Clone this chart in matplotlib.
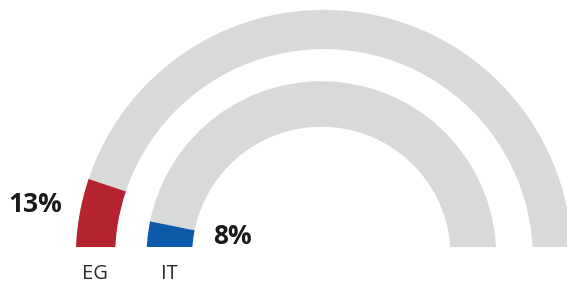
import matplotlib
matplotlib.use("Agg")
import matplotlib.pyplot as plt
from matplotlib.patches import Wedge, Rectangle

# ---- data ----
categories = ["EG", "IT"]
values = [13, 8]            # percent
value_labels = ["13%", "8%"]
scale_max = 126             # value that spans the full half ring

# ---- style ----
colors = ["#B5232F", "#0E5AAA"]
track_color = "#D8D9D9"
W, H = 567, 284

fig = plt.figure(figsize=(W / 100, H / 100), dpi=100)
ax = fig.add_axes([0, 0, 1, 1])
ax.set_xlim(0, W)
ax.set_ylim(0, H)
ax.axis("off")

# ring geometry (pixel space, y measured from bottom)
centers = [(323.9, H - 258.0), (321.4, H - 256.0)]
radii = [248.2, 174.8]
widths = [39.3, 45.5]
clip_y = H - 247.0

clip = Rectangle((0, clip_y), W, H - clip_y, transform=ax.transData,
                 facecolor="none", edgecolor="none")
ax.add_patch(clip)

for i, (cat, v) in enumerate(zip(categories, values)):
    cx, cy = centers[i]
    r, w = radii[i], widths[i]
    ang = 180.0 * v / scale_max
    gray = Wedge((cx, cy), r, 0, 180 - ang, width=w, facecolor=track_color,
                 edgecolor="none", antialiased=True)
    col = Wedge((cx, cy), r, 180 - ang, 180, width=w, facecolor=colors[i],
                edgecolor="none", antialiased=True)
    for p in (gray, col):
        ax.add_patch(p)
        p.set_clip_path(clip)
    # category label under the coloured end
    ax.text(cx - r + w / 2, H - 274, cat, ha="center", va="center",
            fontsize=14.5, family="Open Sans", color="#2a2a2a")

# value labels
ax.text(62, H - 204, value_labels[0], ha="right", va="center",
        fontsize=19, fontweight="bold", family="Open Sans", color="#1a1a1a")
ax.text(213, H - 236, value_labels[1], ha="left", va="center",
        fontsize=19, fontweight="bold", family="Open Sans", color="#1a1a1a")

fig.savefig("out.png", dpi=100)
